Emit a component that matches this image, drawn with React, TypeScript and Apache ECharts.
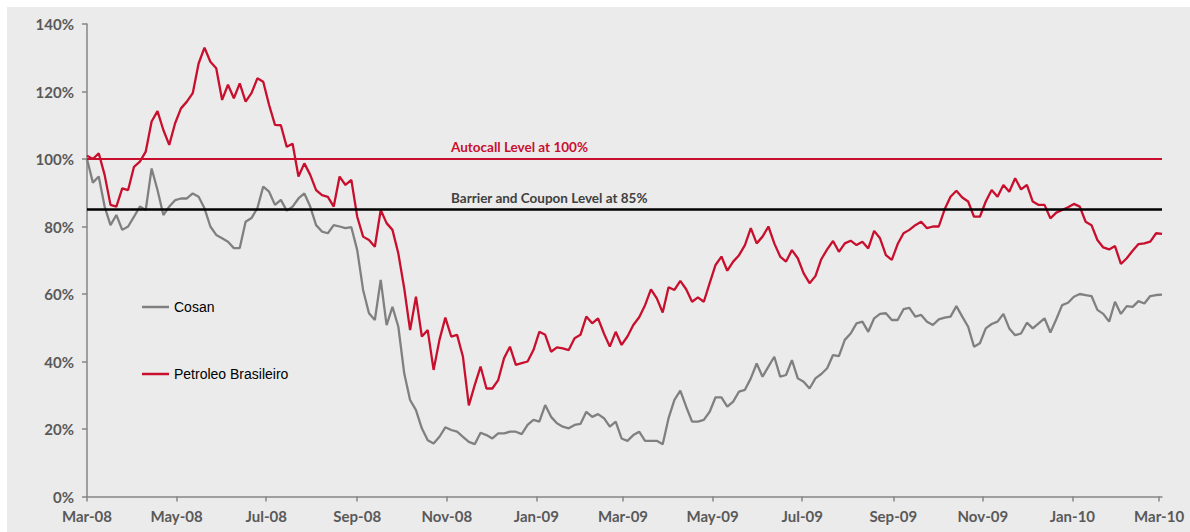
import React, { useEffect, useRef } from "react";
import * as echarts from "echarts";

// ---- Axis definition ----
const START_DATE = "2008-03-01";
const END_DATE = "2010-03-03";
const SAMPLE_STEP_DAYS = 4;
const TICK_DATES = [
  "2008-03-01", "2008-05-01", "2008-07-01", "2008-09-01", "2008-11-01",
  "2009-01-01", "2009-03-01", "2009-05-01", "2009-07-01", "2009-09-01",
  "2009-11-01", "2010-01-01", "2010-03-01",
];
const TICK_LABELS = [
  "Mar-08", "May-08", "Jul-08", "Sep-08", "Nov-08", "Jan-09", "Mar-09",
  "May-09", "Jul-09", "Sep-09", "Nov-09", "Jan-10", "Mar-10",
];
const Y_MIN = 0;
const Y_MAX = 140;
const Y_INTERVAL = 20;

// ---- Levels ----
const AUTOCALL_LEVEL = 100;
const BARRIER_LEVEL = 85;

// ---- Series (performance in %, one value every SAMPLE_STEP_DAYS days from START_DATE) ----
const SERIES_NAMES = ["Cosan", "Petroleo Brasileiro"];

const COSAN = [
  100, 93, 94.8, 85.9, 80.4, 83.4, 79, 80, 82.9, 85.9,
  84.9, 97.2, 90.8, 83.4, 85.9, 87.8, 88.3, 88.3, 89.8, 88.8,
  85.4, 80, 77.5, 76.5, 75.5, 73.6, 73.6, 81.4, 82.5, 85.4,
  91.8, 90.3, 86.4, 87.9, 84.7, 85.9, 88.3, 89.8, 85.9, 80.4,
  78.5, 78, 80.4, 80, 79.5, 79.8, 73, 61.2, 54.3, 52.3,
  64.2, 50.8, 56.2, 50.3, 36.5, 28.6, 25.6, 20.2, 16.7, 15.7,
  17.7, 20.5, 19.7, 19.2, 17.7, 16.2, 15.5, 18.9, 18.2, 17.2,
  18.7, 18.7, 19.2, 19.2, 18.5, 21.2, 22.7, 22.2, 27.1, 23.6,
  21.7, 20.7, 20.2, 21.2, 21.5, 25.1, 23.6, 24.4, 23.2, 20.7,
  22.2, 17.2, 16.5, 18.2, 19.2, 16.5, 16.5, 16.5, 15.5, 23.2,
  28.6, 31.4, 26.6, 22.2, 22.2, 22.7, 25.1, 29.4, 29.4, 26.6,
  28.1, 31.1, 31.6, 35, 39.4, 35.5, 38.5, 41.4, 35.5, 36,
  40.4, 35, 34, 32, 35, 36.3, 38, 41.9, 41.6, 46.4,
  48.3, 51.3, 51.8, 48.8, 52.8, 54.1, 54.3, 52.3, 52.3, 55.5,
  55.9, 53.3, 53.8, 51.8, 50.8, 52.5, 53, 53.3, 56.4, 53.3,
  50.3, 44.4, 45.4, 49.8, 51.1, 51.8, 54.1, 49.8, 47.8, 48.3,
  51.5, 49.8, 51.3, 52.8, 48.6, 52.5, 56.7, 57.4, 59.2, 60,
  59.7, 59.4, 55.3, 54.1, 51.8, 57.7, 54.1, 56.4, 56.2, 57.9,
  57.2, 59.4, 59.7, 59.8,
];

const PETROBRAS = [
  101, 100, 101.7, 95.3, 86.4, 85.9, 91.3, 90.8, 97.7, 99.2,
  102.2, 111.1, 114.2, 108.6, 104.2, 110.6, 115, 117, 119.5, 128.3,
  133, 128.8, 126.9, 117.5, 122, 118, 122.4, 117, 119.5, 123.9,
  122.9, 116, 110.1, 110, 103.6, 104.5, 94.8, 98.7, 95.3, 90.8,
  89.3, 88.8, 85.9, 94.8, 92.3, 93.8, 82.9, 77, 76, 74,
  84.9, 81, 79, 72, 61.7, 49.3, 59.2, 47.4, 49.3, 37.5,
  46.4, 53, 47.4, 47.9, 41.4, 27, 33, 38.5, 32, 32,
  34.5, 41, 44.4, 39, 39.5, 40, 43.4, 48.8, 47.9, 42.9,
  44.2, 43.9, 43.4, 46.9, 47.9, 53.3, 51.3, 52.8, 48.3, 44.4,
  48.8, 44.9, 47.4, 50.8, 53.1, 56.7, 61.4, 58.7, 54.5, 62,
  61.2, 63.9, 61.4, 57.7, 59, 57.7, 63.2, 68.6, 71.1, 66.9,
  69.6, 71.5, 74.5, 79.5, 75, 77, 80, 75, 71.1, 69.6,
  73, 70.6, 66.1, 63.2, 65.3, 70.3, 73.2, 75.7, 72.5, 75,
  75.8, 74.5, 75.5, 73.5, 78.7, 76.5, 71.5, 70.1, 74.8, 78,
  79, 80.4, 81.4, 79.5, 80, 80, 85.1, 88.8, 90.6, 88.6,
  87.4, 82.9, 82.9, 87.4, 90.8, 88.8, 92.3, 90.3, 94.3, 91,
  92.3, 87.4, 86.4, 86.4, 82.4, 84.1, 84.9, 85.7, 86.7, 85.9,
  81.4, 80.4, 76, 73.8, 73.2, 74.2, 68.9, 70.6, 72.8, 74.8,
  75, 75.5, 78, 77.8,
];

// ---- Styles ----
const GRAY = "#808080";
const RED = "#c8102e";
const AXIS_COLOR = "#868686";
const LABEL_COLOR = "#595959";

function buildDays(start: string, end: string): string[] {
  const out: string[] = [];
  let t = Date.parse(start + "T00:00:00Z");
  const e = Date.parse(end + "T00:00:00Z");
  while (t <= e) {
    out.push(new Date(t).toISOString().slice(0, 10));
    t += 86400000;
  }
  return out;
}

export default function App() {
  const ref = useRef<HTMLDivElement>(null);

  useEffect(() => {
    if (!ref.current) return;
    const chart = echarts.init(ref.current, undefined, { renderer: "svg" });
    const days = buildDays(START_DATE, END_DATE);
    const toData = (vals: number[]) =>
      vals.map((v, i) => [days[i * SAMPLE_STEP_DAYS], v]);
    const isTick = (_idx: number, val: string) => TICK_DATES.includes(val);

    const levelLabel = (color: string) => ({
      position: "insideStartTop",
      distance: [364, 5],
      color,
      fontFamily: "Lato",
      fontWeight: "bold",
      fontSize: 13.5,
    });

    chart.setOption({
      animation: false,
      backgroundColor: "#ebebeb",
      grid: { left: 80, top: 17, right: 28, bottom: 35.5, containLabel: false },
      legend: {
        orient: "vertical",
        left: 130,
        top: 287,
        icon: "rect",
        itemWidth: 27,
        itemHeight: 2.5,
        itemGap: 51,
        textStyle: {
          fontFamily: "Liberation Sans",
          fontSize: 14,
          color: "#000",
          lineHeight: 16,
        },
        data: SERIES_NAMES,
      },
      xAxis: {
        type: "category",
        data: days,
        boundaryGap: false,
        axisLine: { lineStyle: { color: AXIS_COLOR, width: 1.5 } },
        axisTick: {
          interval: isTick,
          length: 5,
          lineStyle: { color: AXIS_COLOR, width: 1.5 },
        },
        axisLabel: {
          interval: isTick,
          formatter: (val: string) => TICK_LABELS[TICK_DATES.indexOf(val)],
          color: LABEL_COLOR,
          fontFamily: "Lato",
          fontWeight: "bold",
          fontSize: 15,
          margin: 12,
        },
        splitLine: { show: false },
      },
      yAxis: {
        type: "value",
        min: Y_MIN,
        max: Y_MAX,
        interval: Y_INTERVAL,
        axisLine: { show: true, lineStyle: { color: AXIS_COLOR, width: 1.5 } },
        axisTick: { show: true, length: 5, lineStyle: { color: AXIS_COLOR, width: 1.5 } },
        axisLabel: {
          formatter: "{value}%",
          color: LABEL_COLOR,
          fontFamily: "Lato",
          fontWeight: "bold",
          fontSize: 15,
          margin: 13,
        },
        splitLine: { show: false },
      },
      series: [
        {
          name: SERIES_NAMES[0],
          type: "line",
          data: toData(COSAN),
          symbol: "none",
          color: GRAY,
          lineStyle: { color: GRAY, width: 2.3 },
          emphasis: { disabled: true },
        },
        {
          name: SERIES_NAMES[1],
          type: "line",
          data: toData(PETROBRAS),
          symbol: "none",
          color: RED,
          lineStyle: { color: RED, width: 2.3 },
          emphasis: { disabled: true },
          markLine: {
            silent: true,
            symbol: "none",
            animation: false,
            data: [
              {
                yAxis: AUTOCALL_LEVEL,
                lineStyle: { color: RED, width: 2, type: "solid" },
                label: { ...levelLabel(RED), formatter: `Autocall Level at ${AUTOCALL_LEVEL}%` },
              },
              {
                yAxis: BARRIER_LEVEL,
                lineStyle: { color: "#000", width: 2.5, type: "solid" },
                label: {
                  ...levelLabel("#404040"),
                  formatter: `Barrier and Coupon Level at ${BARRIER_LEVEL}%`,
                },
              },
            ],
          },
        },
      ],
    });
    return () => chart.dispose();
  }, []);

  return (
    <div
      ref={ref}
      style={{
        position: "absolute",
        left: 7,
        top: 7,
        width: 1183,
        height: 525,
        background: "#ebebeb",
      }}
    />
  );
}
